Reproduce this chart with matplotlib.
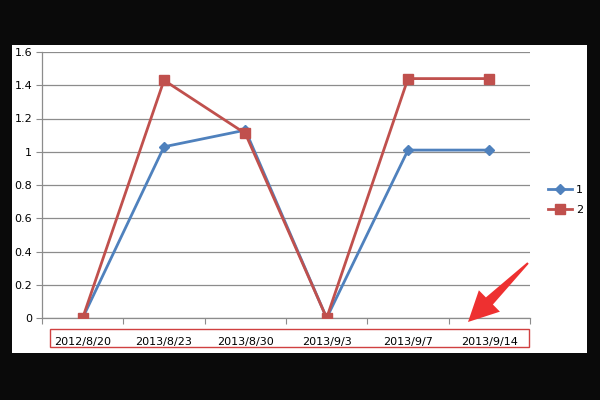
import numpy as np
import matplotlib.pyplot as plt
from matplotlib.patches import Rectangle, Polygon

categories = ['2012/8/20', '2013/8/23', '2013/8/30', '2013/9/3', '2013/9/7', '2013/9/14']
series1 = [0, 1.03, 1.13, 0, 1.01, 1.01]
series2 = [0, 1.43, 1.11, 0, 1.44, 1.44]
yticks = [0, 0.2, 0.4, 0.6, 0.8, 1, 1.2, 1.4, 1.6]
ytick_labels = ['0', '0.2', '0.4', '0.6', '0.8', '1', '1.2', '1.4', '1.6']

blue = '#4F81BD'
red = '#C0504D'
grid_c = '#8C8C8C'

fig = plt.figure(figsize=(6, 4), dpi=100, facecolor='#0a0a0a')
# white chart area
fig.patches.append(Rectangle((12/600, 1-353/400), 575/600, 308/400,
                             transform=fig.transFigure, facecolor='white',
                             edgecolor='none', zorder=-5))

ax = fig.add_axes([42/600, 1-318/400, 488/600, 266/400])
ax.set_facecolor('white')
x = np.arange(len(categories))

ax.plot(x, series1, color=blue, lw=2.0, marker='D', ms=5, label='1', zorder=3)
ax.plot(x, series2, color=red, lw=2.0, marker='s', ms=6.5, label='2', zorder=3)

ax.set_xlim(-0.5, len(categories) - 0.5)
ax.set_ylim(0, 1.6)
ax.set_yticks(yticks)
ax.set_yticklabels(ytick_labels, fontsize=8)
ax.yaxis.grid(True, color=grid_c, lw=0.9)
ax.set_axisbelow(True)

ax.set_xticks(np.arange(-0.5, len(categories)), labels=[''] * (len(categories) + 1))
ax.set_xticks(x, labels=categories, minor=True)
ax.tick_params(axis='x', which='major', length=4, direction='out', color=grid_c)
ax.tick_params(axis='x', which='minor', length=0, pad=14, labelsize=8)
ax.tick_params(axis='y', length=4, direction='out', color=grid_c, pad=3)

for s in ['top', 'right']:
    ax.spines[s].set_visible(False)
for s in ['left', 'bottom']:
    ax.spines[s].set_color(grid_c)
    ax.spines[s].set_linewidth(0.9)

leg = fig.legend(loc='center left', bbox_to_anchor=(538/600, 1-200/400),
                 frameon=False, fontsize=8, handlelength=2.2,
                 handletextpad=0.3, labelspacing=0.9)

# red box around category labels
fig.patches.append(Rectangle((50/600, 1-347/400), 479/600, 18/400,
                             transform=fig.transFigure, facecolor='none',
                             edgecolor='#D04040', lw=1.0, zorder=5))

# tapered red arrow (pixel coords, y downwards)
tail = np.array([528.0, 263.0])
tip = np.array([468.0, 322.0])
d = (tip - tail) / np.linalg.norm(tip - tail)
n = np.array([-d[1], d[0]])
base = tip - d * 30
pts = [tail + n * 1.0, base + n * 5, base + n * 15, tip,
       base - n * 15, base - n * 5, tail - n * 1.0]
pts = [(p[0] / 600, 1 - p[1] / 400) for p in pts]
fig.patches.append(Polygon(pts, closed=True, transform=fig.transFigure,
                           facecolor='#EE3030', edgecolor='none', zorder=6))

fig.savefig('out.png', dpi=100, facecolor=fig.get_facecolor())
